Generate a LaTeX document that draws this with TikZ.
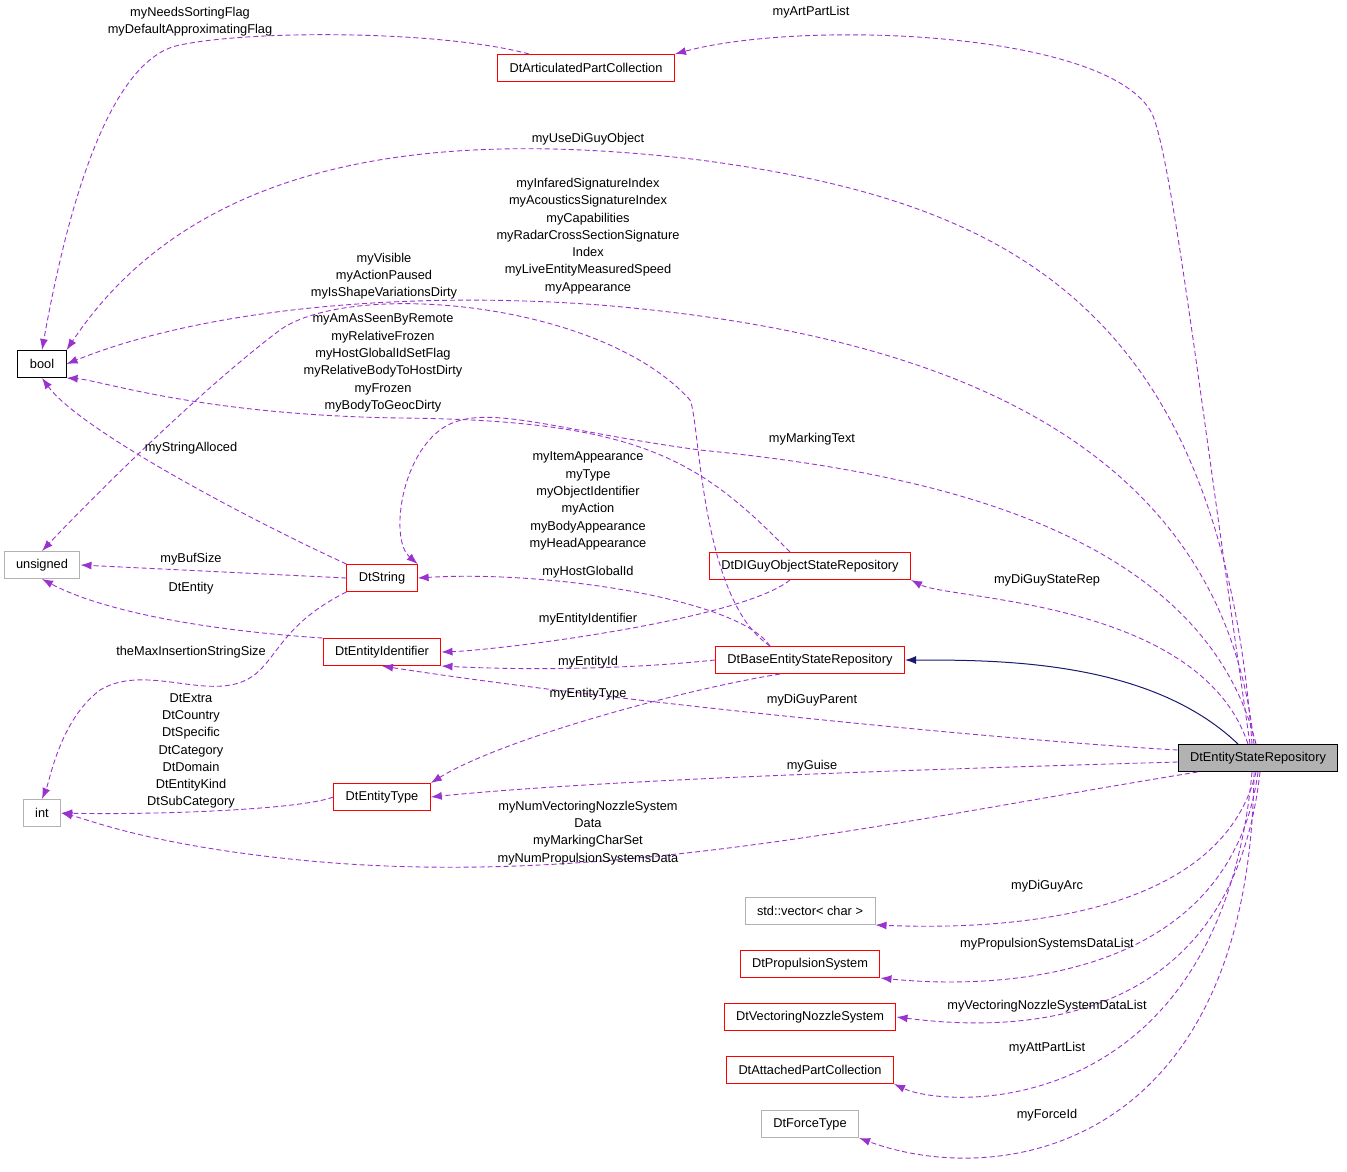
\documentclass[tikz,border=0pt]{standalone}
\usepackage{fontspec}
\setmainfont{Liberation Sans}
\usetikzlibrary{arrows.meta}
\definecolor{ep}{HTML}{9A32CD}
\definecolor{nv}{HTML}{191970}
\begin{document}
\begin{tikzpicture}[x=1pt,y=-1pt,
  every node/.style={font=\fontsize{12.8}{17.3}\selectfont},
  box/.style={draw,rectangle,minimum height=27pt,inner xsep=12pt,fill=white,line width=1pt},
  red/.style={box,draw=red},
  grey/.style={box,draw=gray!60},
  blk/.style={box,draw=black},
  dep/.style={draw=ep,dashed,line width=0.9pt,dash pattern=on 5pt off 3pt,-{Latex[length=11pt,width=8pt]},fill=none},
  lbl/.style={align=center,inner sep=0pt}]
\useasboundingbox (0,0) rectangle (1347,1171);
\node[box,draw=black,fill=gray!60] (esr) at (1258,758) {DtEntityStateRepository};
\node[red] (apc) at (586,68) {DtArticulatedPartCollection};
\node[blk] (bool) at (42,364) {bool};
\node[grey] (uns) at (42,565) {unsigned};
\node[grey] (int) at (42,813) {int};
\node[red] (str) at (382,578) {DtString};
\node[red] (eid) at (382,652) {DtEntityIdentifier};
\node[red] (ety) at (382,797) {DtEntityType};
\node[red] (dig) at (810,566) {DtDIGuyObjectStateRepository};
\node[red] (base) at (810,660) {DtBaseEntityStateRepository};
\node[grey] (vec) at (810,911) {std::vector< char >};
\node[red] (prop) at (810,964) {DtPropulsionSystem};
\node[red] (vns) at (810,1017) {DtVectoringNozzleSystem};
\node[red] (att) at (810,1070) {DtAttachedPartCollection};
\node[grey] (frc) at (810,1124) {DtForceType};

% edges
\draw[dep] (esr.north) ++(-8,0) .. controls (1200,400) and (1170,140) .. (1150,110) .. controls (1100,30) and (800,20) .. (apc.north east);
\draw[dep] (apc.north west) ++(32,0) .. controls (440,30) and (250,30) .. (180,45) .. controls (100,60) and (60,250) .. (bool.north);
\draw[dep] (esr.north) ++(-6,0) .. controls (1220,300) and (1000,200) .. (700,160) .. controls (450,130) and (200,150) .. (bool.north east);
\draw[dep] (esr.north) ++(-4,0) .. controls (1220,420) and (900,330) .. (600,305) .. controls (400,290) and (200,310) .. (bool.east);
\draw[dep] (base.north) ++(-40,0) .. controls (700,600) and (700,420) .. (690,400) .. controls (600,300) and (350,280) .. (280,330) .. controls (200,390) and (90,500) .. (uns.north);
\draw[dep] (dig.north) ++(-20,0) .. controls (700,460) and (640,420) .. (400,418) .. controls (200,415) and (100,380) .. (bool.south east);
\draw[dep] (esr.north) ++(-2,0) .. controls (1200,520) and (900,470) .. (700,450) .. controls (550,430) and (480,400) .. (440,430) .. controls (400,460) and (390,540) .. (str.north east);
\draw[dep] (str.north west) .. controls (250,520) and (80,430) .. (bool.south);
\draw[dep] (str.west) -- (uns.east);
\draw[dep] (str.south west) .. controls (290,620) and (280,650) .. (260,670) .. controls (220,710) and (150,660) .. (100,690) .. controls (60,720) and (50,780) .. (int.north);
\draw[dep] (eid.north west) .. controls (200,630) and (100,610) .. (uns.south);
\draw[dep] (ety.west) .. controls (300,810) and (150,815) .. (int.east);
\draw[dep] (dig.south) ++(-20,0) .. controls (740,620) and (500,650) .. (eid.east);
\draw[dep] (base.west) .. controls (620,670) and (520,670) .. (eid.south east);
\draw[dep] (base.north) ++(-40,0) .. controls (740,600) and (550,570) .. (str.east);
\draw[dep] (base.south) ++(-30,0) .. controls (680,690) and (500,740) .. (ety.north east);
\draw[dep] (esr.west) ++(0,-8) .. controls (1000,740) and (600,700) .. (eid.south);
\draw[dep] (esr.west) ++(0,4) .. controls (900,770) and (600,780) .. (ety.east);
\draw[dep] (esr.south west) ++(20,0) .. controls (900,820) and (600,890) .. (300,860) .. controls (150,845) and (90,820) .. (int.east);
\draw[nv,line width=1pt,-{Latex[length=11pt,width=8pt]}] (esr.north) ++(-20,0) .. controls (1150,660) and (1000,660) .. (base.east);
\draw[dep] (esr.north) ++(-10,0) .. controls (1200,600) and (950,600) .. (dig.south east);
\draw[dep] (esr.south) ++(-2,0) .. controls (1220,920) and (1000,930) .. (vec.south east);
\draw[dep] (esr.south) ++(0,0) .. controls (1230,980) and (1000,990) .. (prop.south east);
\draw[dep] (esr.south) ++(2,0) .. controls (1230,1040) and (1000,1030) .. (vns.east);
\draw[dep] (esr.south) ++(-6,0) .. controls (1220,1120) and (950,1110) .. (att.south east);
\draw[dep] (esr.south) ++(-4,0) .. controls (1250,1150) and (1000,1190) .. (frc.south east);

% labels
\node[lbl] at (811,12) {myArtPartList};
\node[lbl] at (190,22) {myNeedsSortingFlag\\myDefaultApproximatingFlag};
\node[lbl] at (588,139) {myUseDiGuyObject};
\node[lbl] at (588,236) {myInfaredSignatureIndex\\myAcousticsSignatureIndex\\myCapabilities\\myRadarCrossSectionSignature\\Index\\myLiveEntityMeasuredSpeed\\myAppearance};
\node[lbl] at (384,276) {myVisible\\myActionPaused\\myIsShapeVariationsDirty};
\node[lbl] at (383,363) {myAmAsSeenByRemote\\myRelativeFrozen\\myHostGlobalIdSetFlag\\myRelativeBodyToHostDirty\\myFrozen\\myBodyToGeocDirty};
\node[lbl] at (812,439) {myMarkingText};
\node[lbl] at (191,448) {myStringAlloced};
\node[lbl] at (588,501) {myItemAppearance\\myType\\myObjectIdentifier\\myAction\\myBodyAppearance\\myHeadAppearance};
\node[lbl] at (191,559) {myBufSize};
\node[lbl] at (588,572) {myHostGlobalId};
\node[lbl] at (1047,580) {myDiGuyStateRep};
\node[lbl] at (191,588) {DtEntity};
\node[lbl] at (588,619) {myEntityIdentifier};
\node[lbl] at (191,652) {theMaxInsertionStringSize};
\node[lbl] at (588,662) {myEntityId};
\node[lbl] at (588,694) {myEntityType};
\node[lbl] at (812,700) {myDiGuyParent};
\node[lbl] at (191,751) {DtExtra\\DtCountry\\DtSpecific\\DtCategory\\DtDomain\\DtEntityKind\\DtSubCategory};
\node[lbl] at (812,766) {myGuise};
\node[lbl] at (588,833) {myNumVectoringNozzleSystem\\Data\\myMarkingCharSet\\myNumPropulsionSystemsData};
\node[lbl] at (1047,886) {myDiGuyArc};
\node[lbl] at (1047,944) {myPropulsionSystemsDataList};
\node[lbl] at (1047,1006) {myVectoringNozzleSystemDataList};
\node[lbl] at (1047,1048) {myAttPartList};
\node[lbl] at (1047,1115) {myForceId};
\end{tikzpicture}
\end{document}
